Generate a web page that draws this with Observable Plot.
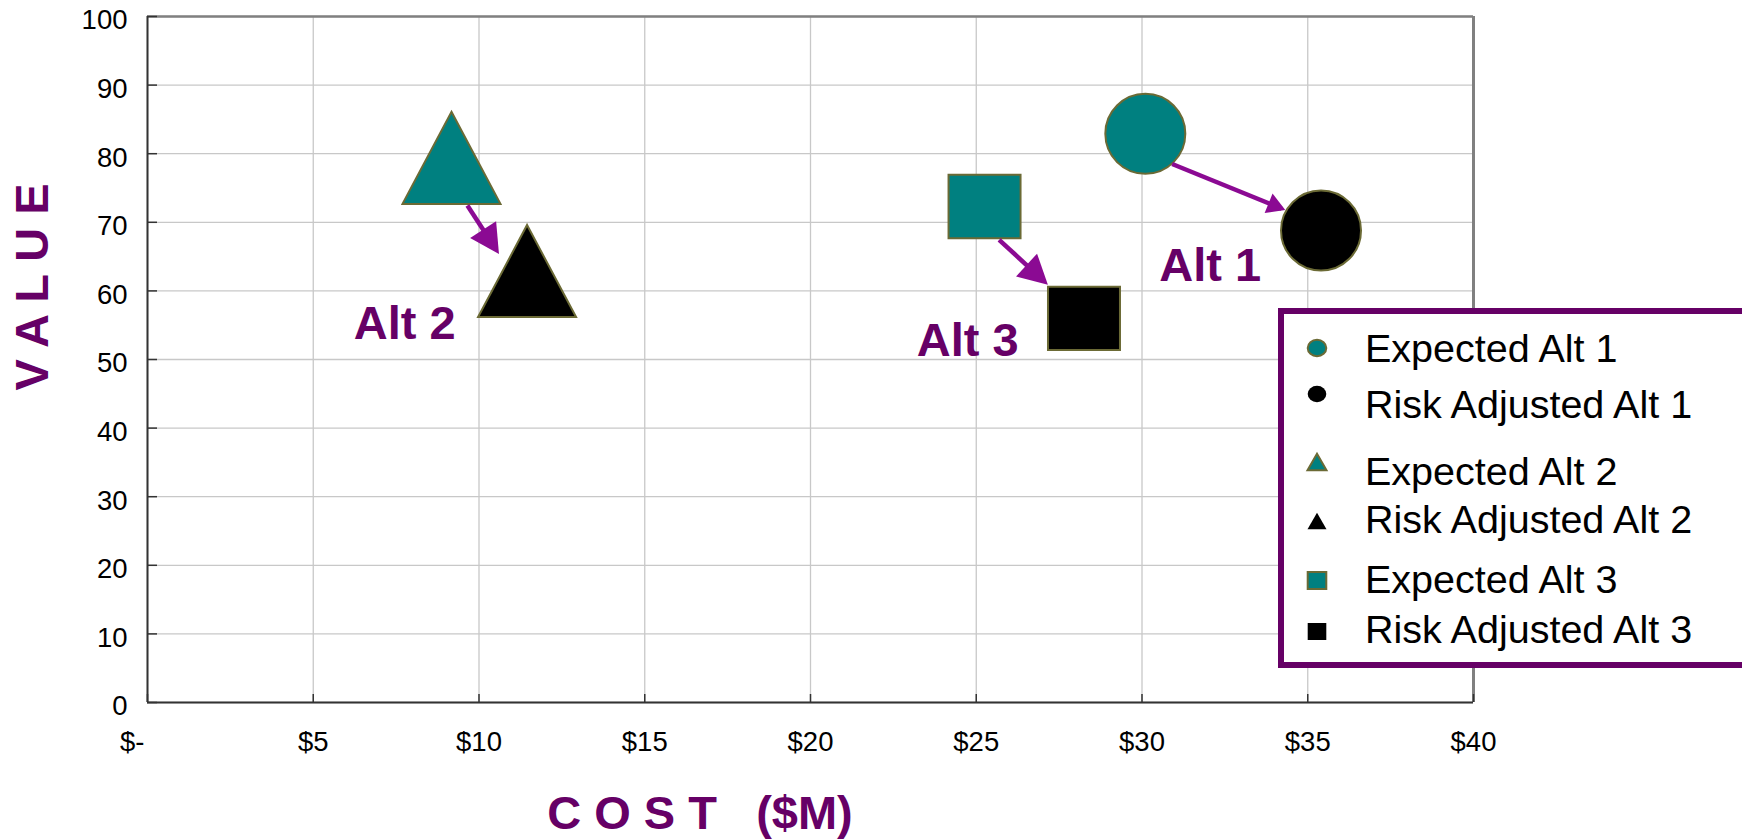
<!DOCTYPE html>
<html><head><meta charset="utf-8">
<script src="https://cdn.jsdelivr.net/npm/d3@7"></script>
<script src="https://cdn.jsdelivr.net/npm/@observablehq/plot@0.6"></script>
<style>
html,body{margin:0;padding:0;background:#fff;overflow:hidden;}
#chart{position:relative;width:1742px;height:839px;}
</style></head><body><div id="chart"></div>
<script>
// ---- data ----
const alts = ["Alt 1", "Alt 2", "Alt 3"];
const types = ["Expected", "Risk Adjusted"];
const expectedCost = [30.1, 9.17, 25.25];
const expectedValue = [82.9, 79.4, 72.3];
const riskCost = [35.4, 11.45, 28.25];
const riskValue = [68.8, 62.9, 56.0];
const arrowFromCost = [30.91, 9.65, 25.69];
const arrowFromValue = [78.5, 72.45, 67.45];
const arrowToCost = [34.21, 10.52, 27.05];
const arrowToValue = [72.0, 66.0, 61.4];
const labelCost = [32.06, 7.76, 24.74];
const labelValue = [63.7, 55.2, 52.7];
const xTicks = [0, 5, 10, 15, 20, 25, 30, 35, 40];
const xTickLabels = ["$-", "$5", "$10", "$15", "$20", "$25", "$30", "$35", "$40"];
const yTicks = [0, 10, 20, 30, 40, 50, 60, 70, 80, 90, 100];
const yTitle = "V A L U E";
const xTitle = "C O S T   ($M)";

// ---- styles ----
const teal = "#008080", olive = "#6b6a35", darkPurple = "#660066", arrowPurple = "#8b0a93";
const font = "'Liberation Sans', Arial, Helvetica, sans-serif";

const points = alts.flatMap((alt, i) => [
  {alt, type: types[0], cost: expectedCost[i], value: expectedValue[i]},
  {alt, type: types[1], cost: riskCost[i], value: riskValue[i]}
]);
const arrows = alts.map((alt, i) => ({alt, x1: arrowFromCost[i], y1: arrowFromValue[i], x2: arrowToCost[i], y2: arrowToValue[i]}));
const labels = alts.map((alt, i) => ({alt, cost: labelCost[i], value: labelValue[i]}));

const triangleSym = {draw(ctx, size) {
  const r = Math.sqrt(size / Math.PI), h = 0.94 * r;
  ctx.moveTo(0, -h); ctx.lineTo(r, h); ctx.lineTo(-r, h); ctx.closePath();
}};
const rectSym = {draw(ctx, size) {
  const r = Math.sqrt(size / Math.PI), h = 0.88 * r;
  ctx.moveTo(-r, -h); ctx.lineTo(r, -h); ctx.lineTo(r, h); ctx.lineTo(-r, h); ctx.closePath();
}};

const NS = "http://www.w3.org/2000/svg";
function arrowHead(L, W, over) {
  return (color, context) => {
    const doc = (context && context.document) || document;
    const m = doc.createElementNS(NS, "marker");
    m.setAttribute("viewBox", `0 0 ${L} ${W}`);
    m.setAttribute("markerWidth", L);
    m.setAttribute("markerHeight", W);
    m.setAttribute("markerUnits", "userSpaceOnUse");
    m.setAttribute("refX", L - over);
    m.setAttribute("refY", W / 2);
    m.setAttribute("orient", "auto");
    m.setAttribute("overflow", "visible");
    const p = doc.createElementNS(NS, "path");
    p.setAttribute("d", `M0,0L${L},${W / 2}L0,${W}Z`);
    p.setAttribute("fill", color);
    p.setAttribute("stroke", "none");
    m.appendChild(p);
    return m;
  };
}

const dotCommon = {x: "cost", y: "value", fill: "type", stroke: olive, strokeWidth: 2};

const svg = Plot.plot({
  width: 1742, height: 839,
  marginLeft: 147, marginRight: 269, marginTop: 16, marginBottom: 137,
  style: {fontFamily: font, fontSize: "27.5px", color: "#000", background: "#fff", overflow: "visible"},
  x: {domain: [0, 40]},
  y: {domain: [0, 100]},
  color: {domain: types, range: [teal, "#000"]},
  marks: [
    Plot.ruleX(xTicks, {stroke: "#c8c8c8", strokeWidth: 1.3}),
    Plot.ruleY(yTicks, {stroke: "#c8c8c8", strokeWidth: 1.3}),
    Plot.ruleY([100], {stroke: "#808080", strokeWidth: 2.5}),
    Plot.ruleX([40], {stroke: "#808080", strokeWidth: 3}),
    Plot.ruleX([0], {stroke: "#333", strokeWidth: 2}),
    Plot.ruleY([0], {stroke: "#333", strokeWidth: 2}),
    Plot.ruleX(xTicks, {y1: 0, y2: 0, insetTop: -8, stroke: "#333", strokeWidth: 1.5}),
    Plot.ruleY(yTicks, {x1: 0, x2: 0, insetRight: -10, stroke: "#333", strokeWidth: 1.5}),
    Plot.axisX(xTicks, {tickSize: 0, tickPadding: 29, label: null,
      tickFormat: d => { const s = xTickLabels[xTicks.indexOf(d)]; return d === 0 ? s + "\u00a0\u00a0\u00a0\u00a0" : s; }}),
    Plot.axisY(yTicks, {tickSize: 0, tickPadding: 20, label: null, dy: 4}),
    Plot.dot(points.filter(d => d.alt === alts[0]), {...dotCommon, r: 40, symbol: "circle"}),
    Plot.dot(points.filter(d => d.alt === alts[1]), {...dotCommon, r: 49, symbol: triangleSym}),
    Plot.dot(points.filter(d => d.alt === alts[2]), {...dotCommon, r: 36, symbol: rectSym}),
    Plot.link(arrows.filter(d => d.alt === alts[0]), {x1: "x1", y1: "y1", x2: "x2", y2: "y2",
      stroke: arrowPurple, strokeWidth: 4.5, markerEnd: arrowHead(18, 21, 4)}),
    Plot.link(arrows.filter(d => d.alt !== alts[0]), {x1: "x1", y1: "y1", x2: "x2", y2: "y2",
      stroke: arrowPurple, strokeWidth: 4.5, markerEnd: arrowHead(29, 31, 5)}),
    Plot.text(labels, {x: "cost", y: "value", text: "alt", fill: darkPurple, fontSize: 47, fontWeight: "bold"})
  ]
});
document.getElementById("chart").appendChild(svg);

// ---- axis titles ----
const s = d3.select(svg);
s.append("text").attr("transform", "translate(48,287) rotate(-90)")
  .attr("text-anchor", "middle").attr("fill", darkPurple)
  .style("font", `bold 47px ${font}`).style("white-space", "pre").text(yTitle);
s.append("text").attr("x", 700).attr("y", 829)
  .attr("text-anchor", "middle").attr("fill", darkPurple)
  .style("font", `bold 47px ${font}`).style("white-space", "pre").text(xTitle);

// ---- legend ----
const lg = s.append("g").attr("transform", "translate(1278,308)");
lg.append("rect").attr("x", 3).attr("y", 3).attr("width", 700).attr("height", 354)
  .attr("fill", "#fff").attr("stroke", darkPurple).attr("stroke-width", 6);
const rowText = [54, 110, 177, 225, 285, 335];
const rowSym = [40, 86, 154, 213, 272.5, 323.5];
const symX = 39, textX = 87;
alts.forEach((alt, i) => types.forEach((type, j) => {
  const k = i * 2 + j;
  const fill = j === 0 ? teal : "#000";
  const stroke = j === 0 ? olive : "none";
  const cy = rowSym[k];
  let el;
  if (i === 0) el = lg.append("ellipse").attr("cx", symX).attr("cy", cy).attr("rx", 9.3).attr("ry", 8.2);
  else if (i === 1) el = lg.append("path").attr("d", `M${symX},${cy - 8.2}L${symX + 9.5},${cy + 8.2}L${symX - 9.5},${cy + 8.2}Z`);
  else el = lg.append("rect").attr("x", symX - 9.3).attr("y", cy - 8.5).attr("width", 18.6).attr("height", 17);
  el.attr("fill", fill).attr("stroke", stroke).attr("stroke-width", 2);
  lg.append("text").attr("x", textX).attr("y", rowText[k]).attr("fill", "#000")
    .attr("text-anchor", "start")
    .style("font", `39.5px ${font}`).text(`${type} ${alt}`);
}));
</script></body></html>
